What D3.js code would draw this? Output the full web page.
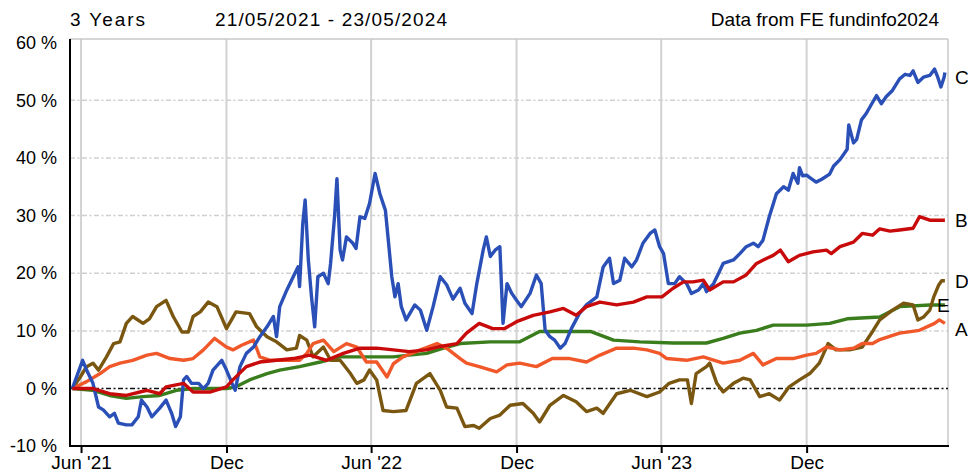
<!DOCTYPE html>
<html><head><meta charset="utf-8">
<script src="https://cdn.jsdelivr.net/npm/d3@7"></script>
<style>body{margin:0;background:#fff}svg{display:block}</style>
</head><body>
<svg id="chart" width="968" height="475"></svg>
<script>
// ---------- data ----------
const headerPeriod = "3 Years";
const headerRange = "21/05/2021 - 23/05/2024";
const headerSource = "Data from FE fundinfo2024";
const dateStart = "2021-05-21";
const dateEnd = "2024-05-23";
const xTickDates = ["2021-06-01","2021-12-01","2022-06-01","2022-12-01","2023-06-01","2023-12-01"];
const xTickLabels = ["Jun '21","Dec","Jun '22","Dec","Jun '23","Dec"];
const yTicks = [-10,0,10,20,30,40,50,60];
const seriesNames = ["E","D","A","C","B"];
const seriesColors = {A:"#f0582a",B:"#c80a0a",C:"#2a50b8",D:"#7a5710",E:"#3a7d1c"};

const seriesA = [["2021-05-21",0],["2021-06-08",1.2],["2021-06-25",2.6],["2021-07-07",3.8],["2021-07-20",4.4],["2021-08-05",4.9],["2021-08-23",5.8],["2021-09-04",6.1],["2021-09-21",5.2],["2021-10-08",4.9],["2021-10-20",5.2],["2021-11-02",6.7],["2021-11-16",8.7],["2021-12-01",7.2],["2021-12-09",6.7],["2021-12-20",7.5],["2022-01-04",8.4],["2022-01-12",5.5],["2022-01-25",4.9],["2022-02-15",4.9],["2022-03-03",4.9],["2022-03-12",6.1],["2022-03-20",7.8],["2022-04-02",8.4],["2022-04-15",6.4],["2022-05-01",7.8],["2022-05-14",7.2],["2022-05-26",4.6],["2022-06-08",4.6],["2022-06-21",2.0],["2022-06-29",4.3],["2022-07-11",5.5],["2022-08-02",6.7],["2022-08-23",7.8],["2022-09-06",6.8],["2022-09-21",5.2],["2022-09-29",4.4],["2022-10-15",3.8],["2022-11-06",2.9],["2022-11-19",4.1],["2022-12-05",4.4],["2022-12-26",3.8],["2023-01-15",5.2],["2023-02-06",5.2],["2023-02-27",4.6],["2023-03-16",5.8],["2023-04-06",7.0],["2023-04-27",7.0],["2023-05-14",6.7],["2023-05-30",6.1],["2023-06-08",5.2],["2023-07-03",4.9],["2023-07-24",5.5],["2023-08-18",4.4],["2023-09-08",4.9],["2023-09-25",6.1],["2023-10-07",4.1],["2023-10-24",5.2],["2023-11-14",5.2],["2023-12-01",5.8],["2023-12-13",6.1],["2023-12-26",7.2],["2024-01-12",6.7],["2024-01-29",7.0],["2024-02-09",7.8],["2024-02-22",7.8],["2024-03-02",8.5],["2024-03-27",9.6],["2024-04-21",10.1],["2024-05-10",11.3],["2024-05-16",11.9],["2024-05-23",11.3]];

const seriesB = [["2021-05-21",0],["2021-06-16",0],["2021-07-07",-0.9],["2021-07-28",-1.2],["2021-08-23",-0.3],["2021-09-08",-0.9],["2021-09-16",0.3],["2021-10-08",0.9],["2021-10-20",-0.6],["2021-11-10",-0.6],["2021-12-01",0.3],["2021-12-09",1.5],["2021-12-26",3.8],["2022-01-12",4.6],["2022-02-02",4.9],["2022-02-23",5.2],["2022-03-16",5.8],["2022-04-06",4.9],["2022-04-27",6.1],["2022-05-18",7.0],["2022-06-08",7.0],["2022-06-29",6.7],["2022-07-19",6.4],["2022-08-10",6.7],["2022-08-27",7.3],["2022-09-17",7.8],["2022-09-29",9.6],["2022-10-15",11.3],["2022-11-01",10.4],["2022-11-16",10.4],["2022-12-01",11.6],["2022-12-22",12.7],["2023-01-12",13.3],["2023-01-29",13.9],["2023-02-14",12.7],["2023-02-27",14.2],["2023-03-16",15.0],["2023-04-06",14.5],["2023-04-27",15.0],["2023-05-14",15.9],["2023-06-02",15.9],["2023-06-16",17.4],["2023-06-29",18.5],["2023-07-11",18.5],["2023-07-24",18.8],["2023-08-01",17.1],["2023-08-18",18.5],["2023-08-31",18.5],["2023-09-16",19.7],["2023-09-29",21.7],["2023-10-12",22.6],["2023-10-20",23.1],["2023-10-29",24.0],["2023-11-08",22.0],["2023-11-22",23.1],["2023-12-09",23.7],["2023-12-26",24.0],["2024-01-01",23.4],["2024-01-12",24.6],["2024-01-29",25.4],["2024-02-09",26.9],["2024-02-22",26.6],["2024-03-02",27.7],["2024-03-15",27.3],["2024-03-27",27.5],["2024-04-13",27.8],["2024-04-21",29.8],["2024-05-04",29.2],["2024-05-23",29.2]];

const seriesC = [["2021-05-21",0],["2021-06-03",4.9],["2021-06-08",3.2],["2021-06-16",0.9],["2021-06-23",-3.2],["2021-06-29",-3.7],["2021-07-07",-4.9],["2021-07-13",-4.3],["2021-07-18",-6.0],["2021-07-28",-6.3],["2021-08-04",-6.3],["2021-08-12",-4.9],["2021-08-16",-2.0],["2021-08-23",-3.2],["2021-08-29",-4.9],["2021-09-08",-3.4],["2021-09-16",-2.0],["2021-09-23",-4.3],["2021-09-28",-6.6],["2021-10-04",-4.9],["2021-10-08",1.5],["2021-10-12",2.1],["2021-10-18",0.9],["2021-10-27",0.9],["2021-11-02",0],["2021-11-08",0.9],["2021-11-14",3.2],["2021-11-25",4.9],["2021-12-01",3.2],["2021-12-08",0.9],["2021-12-12",-0.3],["2021-12-18",3.8],["2021-12-26",6.1],["2022-01-04",7.2],["2022-01-12",9.0],["2022-01-21",10.7],["2022-01-29",12.5],["2022-02-02",9.0],["2022-02-06",14.2],["2022-02-15",17.1],["2022-02-23",19.4],["2022-03-01",21.1],["2022-03-03",17.7],["2022-03-07",28.6],["2022-03-10",32.7],["2022-03-14",22.3],["2022-03-18",15.9],["2022-03-22",10.7],["2022-03-26",19.4],["2022-04-02",20.0],["2022-04-08",18.2],["2022-04-11",21.7],["2022-04-16",29.8],["2022-04-19",36.4],["2022-04-23",24.0],["2022-04-26",22.3],["2022-05-01",26.3],["2022-05-09",25.2],["2022-05-13",24.3],["2022-05-18",29.8],["2022-05-24",29.5],["2022-05-30",32.1],["2022-06-06",37.3],["2022-06-12",33.8],["2022-06-19",30.9],["2022-06-23",25.2],["2022-06-27",19.4],["2022-07-01",15.9],["2022-07-05",18.2],["2022-07-09",14.2],["2022-07-15",11.9],["2022-07-26",14.5],["2022-08-02",13.6],["2022-08-10",10.1],["2022-08-18",14.2],["2022-08-27",19.4],["2022-09-04",18.0],["2022-09-12",15.5],["2022-09-21",17.4],["2022-09-27",14.8],["2022-10-06",13.0],["2022-10-12",18.2],["2022-10-20",24.0],["2022-10-24",26.3],["2022-10-29",22.9],["2022-11-04",24.0],["2022-11-10",24.6],["2022-11-14",11.3],["2022-11-19",18.2],["2022-11-25",16.5],["2022-12-01",15.3],["2022-12-07",14.2],["2022-12-18",16.5],["2022-12-26",19.7],["2023-01-01",18.2],["2023-01-06",10.1],["2023-01-12",9.0],["2023-01-18",8.4],["2023-01-25",7.0],["2023-01-31",7.8],["2023-02-08",10.4],["2023-02-18",13.0],["2023-02-27",14.5],["2023-03-12",15.9],["2023-03-20",21.1],["2023-03-28",22.6],["2023-04-02",18.2],["2023-04-10",18.8],["2023-04-16",22.6],["2023-04-25",21.1],["2023-05-01",22.3],["2023-05-09",25.2],["2023-05-18",26.9],["2023-05-24",27.5],["2023-05-30",24.6],["2023-06-04",23.4],["2023-06-10",18.2],["2023-06-18",18.2],["2023-06-24",19.4],["2023-07-03",18.2],["2023-07-09",16.5],["2023-07-18",17.1],["2023-07-24",18.2],["2023-07-28",16.8],["2023-08-06",18.2],["2023-08-14",20.5],["2023-08-18",21.7],["2023-08-31",22.3],["2023-09-08",23.4],["2023-09-16",24.6],["2023-09-25",25.2],["2023-10-01",24.6],["2023-10-07",25.7],["2023-10-15",29.8],["2023-10-24",33.8],["2023-11-02",35.0],["2023-11-08",34.4],["2023-11-14",37.3],["2023-11-20",35.6],["2023-11-22",38.3],["2023-11-26",36.9],["2023-12-01",37.0],["2023-12-05",36.6],["2023-12-13",35.8],["2023-12-20",36.3],["2023-12-30",37.2],["2024-01-04",38.6],["2024-01-12",39.7],["2024-01-21",41.5],["2024-01-23",45.7],["2024-01-29",42.6],["2024-02-02",43.2],["2024-02-08",46.6],["2024-02-14",47.7],["2024-02-21",49.4],["2024-02-27",50.8],["2024-03-04",49.4],["2024-03-10",50.6],["2024-03-18",51.7],["2024-03-27",53.7],["2024-04-03",54.5],["2024-04-09",54.3],["2024-04-13",55.1],["2024-04-19",53.1],["2024-04-26",54.0],["2024-05-04",54.3],["2024-05-10",55.4],["2024-05-14",54.0],["2024-05-18",52.3],["2024-05-22",54.0],["2024-05-23",54.8]];

const seriesD = [["2021-05-21",0],["2021-05-31",2.0],["2021-06-08",3.8],["2021-06-16",4.4],["2021-06-23",3.2],["2021-07-03",5.5],["2021-07-12",7.8],["2021-07-20",8.1],["2021-07-28",11.3],["2021-08-05",12.5],["2021-08-18",11.3],["2021-08-26",12.1],["2021-09-04",14.2],["2021-09-16",15.3],["2021-09-25",12.5],["2021-10-06",9.8],["2021-10-14",9.8],["2021-10-20",12.5],["2021-10-29",13.3],["2021-11-08",15.0],["2021-11-19",14.2],["2021-12-01",10.4],["2021-12-13",13.3],["2021-12-30",13.0],["2022-01-08",10.7],["2022-01-21",9.0],["2022-02-02",8.1],["2022-02-15",6.7],["2022-02-27",7.0],["2022-03-03",9.2],["2022-03-12",8.4],["2022-03-20",5.5],["2022-04-02",7.2],["2022-04-11",4.9],["2022-04-23",4.9],["2022-05-06",2.6],["2022-05-14",0.9],["2022-05-23",1.5],["2022-05-30",3.2],["2022-06-08",1.5],["2022-06-16",-3.8],["2022-06-29",-4.0],["2022-07-15",-3.8],["2022-07-28",0.9],["2022-08-14",2.6],["2022-08-27",-0.3],["2022-09-04",-3.2],["2022-09-17",-3.4],["2022-09-27",-6.6],["2022-10-08",-6.4],["2022-10-15",-6.9],["2022-10-29",-5.2],["2022-11-10",-4.6],["2022-11-23",-2.9],["2022-12-09",-2.6],["2022-12-22",-4.3],["2022-12-30",-5.8],["2023-01-12",-2.9],["2023-01-29",-1.2],["2023-02-14",-2.3],["2023-02-27",-4.0],["2023-03-12",-3.4],["2023-03-20",-4.3],["2023-04-06",-0.9],["2023-04-23",-0.3],["2023-05-14",-1.4],["2023-05-30",-0.6],["2023-06-11",0.9],["2023-06-24",1.5],["2023-07-04",1.5],["2023-07-09",-2.6],["2023-07-15",2.6],["2023-07-28",3.8],["2023-08-01",4.4],["2023-08-10",0.9],["2023-08-18",-0.6],["2023-08-31",0.9],["2023-09-12",1.8],["2023-09-21",1.5],["2023-10-03",-1.4],["2023-10-15",-0.9],["2023-10-28",-2.0],["2023-11-09",0.3],["2023-11-22",1.5],["2023-12-05",2.6],["2023-12-17",4.4],["2023-12-28",7.8],["2024-01-07",6.7],["2024-01-24",6.7],["2024-02-09",7.2],["2024-02-22",9.9],["2024-03-02",11.9],["2024-03-18",13.6],["2024-04-01",14.8],["2024-04-13",14.5],["2024-04-19",11.9],["2024-04-26",12.4],["2024-05-04",13.6],["2024-05-09",15.9],["2024-05-15",17.9],["2024-05-19",18.7],["2024-05-23",18.7]];

const seriesE = [["2021-05-21",0],["2021-06-16",-0.3],["2021-07-07",-1.2],["2021-07-28",-1.7],["2021-08-18",-1.4],["2021-09-08",-1.2],["2021-09-29",-0.3],["2021-10-20",0],["2021-11-10",0],["2021-12-01",0],["2021-12-13",0.3],["2021-12-30",1.5],["2022-01-21",2.6],["2022-02-06",3.2],["2022-03-03",3.8],["2022-03-29",4.6],["2022-04-23",5.5],["2022-05-18",5.5],["2022-06-29",5.5],["2022-07-19",5.8],["2022-08-10",6.1],["2022-08-31",7.0],["2022-09-21",7.8],["2022-10-29",8.1],["2022-12-05",8.1],["2022-12-30",9.9],["2023-01-20",9.9],["2023-03-04",9.9],["2023-04-02",8.4],["2023-05-05",8.1],["2023-06-16",7.9],["2023-07-28",7.9],["2023-08-18",8.7],["2023-09-08",9.6],["2023-09-29",10.1],["2023-10-20",11.0],["2023-12-01",11.0],["2023-12-30",11.3],["2024-01-21",12.1],["2024-03-02",12.4],["2024-03-27",14.2],["2024-05-04",14.5],["2024-05-23",14.5]];

const seriesData = {A:seriesA,B:seriesB,C:seriesC,D:seriesD,E:seriesE};

// ---------- drawing ----------
const parse = d3.timeParse("%Y-%m-%d");
const svg = d3.select("#chart");
svg.append("rect").attr("width",968).attr("height",475).attr("fill","#fff");

const frame = {left:70, right:948, top:39, bottom:446};
const x = d3.scaleTime().domain([parse(dateStart), parse(dateEnd)]).range([72.3, 944.9]);
const y = d3.scaleLinear().domain([-10, 60]).range([446.2, 42.6]);
const font = "'Liberation Sans', Arial, sans-serif";

// vertical grid
svg.append("g").selectAll("line").data(xTickDates).join("line")
  .attr("x1", d => x(parse(d))).attr("x2", d => x(parse(d)))
  .attr("y1", frame.top).attr("y2", frame.bottom)
  .attr("stroke", "#d2d2d2").attr("stroke-width", 2);

// horizontal grid (dash-dot)
svg.append("g").selectAll("line").data(yTicks.filter(v => v > 0 && v < 60)).join("line")
  .attr("x1", frame.left).attr("x2", frame.right)
  .attr("y1", d => y(d)).attr("y2", d => y(d))
  .attr("stroke", "#cfcfcf").attr("stroke-width", 1.5).attr("stroke-dasharray", "5,2.5,2,2.5");

// frame top/right
svg.append("line").attr("x1", frame.left).attr("x2", frame.right).attr("y1", frame.top).attr("y2", frame.top)
  .attr("stroke", "#c8c8c8").attr("stroke-width", 1.5);
svg.append("line").attr("x1", frame.right).attr("x2", frame.right).attr("y1", frame.top).attr("y2", frame.bottom)
  .attr("stroke", "#c8c8c8").attr("stroke-width", 1.5);

// zero line
svg.append("line").attr("x1", frame.left).attr("x2", frame.right).attr("y1", y(0)).attr("y2", y(0))
  .attr("stroke", "#111").attr("stroke-width", 1.5).attr("stroke-dasharray", "5,2.5,2,2.5");

// series lines
const line = d3.line().x(d => x(parse(d[0]))).y(d => y(d[1]));
seriesNames.forEach(n => {
  svg.append("path").datum(seriesData[n]).attr("d", line)
    .attr("fill", "none").attr("stroke", seriesColors[n]).attr("stroke-width", 3.4)
    .attr("stroke-linejoin", "round");
});

// axes
const xAxis = d3.axisBottom(x).tickValues(xTickDates.map(parse))
  .tickFormat((d, i) => xTickLabels[i]).tickSize(7).tickPadding(3);
const gx = svg.append("g").attr("transform", `translate(0,${frame.bottom})`).call(xAxis);
gx.select(".domain").remove();
gx.selectAll(".tick line").attr("stroke", "#000").attr("stroke-width", 2);
gx.selectAll(".tick text").attr("font-family", font).attr("font-size", 19).attr("fill", "#000");

const yAxis = d3.axisLeft(y).tickValues(yTicks).tickFormat(d => d + " %").tickSize(0).tickPadding(13);
const gy = svg.append("g").attr("transform", `translate(${frame.left},0)`).call(yAxis);
gy.select(".domain").remove();
gy.selectAll(".tick text").attr("font-family", font).attr("font-size", 18).attr("fill", "#000");

svg.append("line").attr("x1", frame.left).attr("x2", frame.left).attr("y1", frame.top).attr("y2", frame.bottom + 1)
  .attr("stroke", "#000").attr("stroke-width", 2);
svg.append("line").attr("x1", frame.left - 1).attr("x2", frame.right + 1).attr("y1", frame.bottom).attr("y2", frame.bottom)
  .attr("stroke", "#000").attr("stroke-width", 2);

// header
svg.append("text").attr("x", 70).attr("y", 26).text(headerPeriod)
  .attr("font-family", font).attr("font-size", 19).attr("textLength", 75);
svg.append("text").attr("x", 215).attr("y", 26).text(headerRange)
  .attr("font-family", font).attr("font-size", 19).attr("textLength", 232);
svg.append("text").attr("x", 939).attr("y", 26).attr("text-anchor", "end").text(headerSource)
  .attr("font-family", font).attr("font-size", 19);

// end labels
const labelNudge = {A:{dx:0,dy:6},B:{dx:0,dy:0},C:{dx:0,dy:5},D:{dx:0,dy:0},E:{dx:-18,dy:0}};
["C","B","D","E","A"].forEach(n => {
  const s = seriesData[n], last = s[s.length - 1];
  svg.append("text").attr("x", 955 + labelNudge[n].dx).attr("y", y(last[1]) + labelNudge[n].dy)
    .attr("dy", "0.36em").text(n)
    .attr("font-family", font).attr("font-size", 19).attr("fill", "#000");
});
</script>
</body></html>
